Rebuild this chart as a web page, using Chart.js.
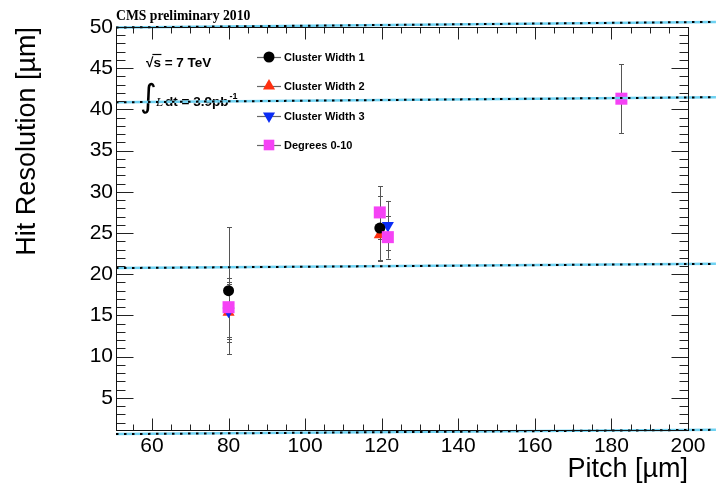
<!DOCTYPE html>
<html>
<head>
<meta charset="utf-8">
<script src="https://cdn.jsdelivr.net/npm/chart.js@4.4.0/dist/chart.umd.min.js"></script>
<style>
    html, body { margin: 0; padding: 0; background: #fff; }
</style>
</head>
<body>
<canvas id="resolutionChart" width="716" height="488"></canvas>
<script>
// axis ticks
const pitchTicks = [60, 80, 100, 120, 140, 160, 180, 200];
const resTicks = [5, 10, 15, 20, 25, 30, 35, 40, 45, 50];
const pitchMinorStep = 5;
const resMinorStep = 1;

// Cluster Width 1
const cw1Pitch = [80, 119.5];
const cw1Res = [18.0, 25.6];
const cw1Err = [7.7, 3.9];
// Cluster Width 2
const cw2Pitch = [80, 119.5];
const cw2Res = [15.4, 24.8];
const cw2Err = [3.6, 3.2];
// Cluster Width 3
const cw3Pitch = [80, 121.6];
const cw3Res = [15.5, 25.9];
const cw3Err = [3.3, 3.0];
// Degrees 0-10
const degPitch = [80, 119.5, 121.6, 182.6];
const degRes = [16.0, 27.5, 24.5, 41.3];
const degErr = [3.6, 3.2, 2.6, 4.2];

// the dotted lines running across the frame
const lineEndsPitch = [50.6, 207.3];
const lineLeftRes = [49.94, 40.86, 20.75, 0.6];
const lineRightRes = [50.62, 41.48, 21.26, 1.12];

function toPoints(px, py) {
    return px.map((p, i) => ({ x: p, y: py[i] }));
}

const linePoints = [];
lineLeftRes.forEach((r, i) => {
    linePoints.push({ x: lineEndsPitch[0], y: r });
    linePoints.push({ x: lineEndsPitch[1], y: lineRightRes[i] });
    linePoints.push({ x: lineEndsPitch[1], y: null });
});

const series = [
    { label: 'Cluster Width 1', pitch: cw1Pitch, res: cw1Res, err: cw1Err, color: '#000000', style: 'circle', radius: 5.5, rotation: 0, order: 3 },
    { label: 'Cluster Width 2', pitch: cw2Pitch, res: cw2Res, err: cw2Err, color: '#ff3010', style: 'triangle', radius: 7, rotation: 0, order: 5 },
    { label: 'Cluster Width 3', pitch: cw3Pitch, res: cw3Res, err: cw3Err, color: '#0a2cf5', style: 'triangle', radius: 7, rotation: 180, order: 4 },
    { label: 'Degrees 0-10', pitch: degPitch, res: degRes, err: degErr, color: '#f542f5', style: 'rect', radius: 8.5, rotation: 0, order: 2 }
];

const datasets = series.map(s => ({
    type: 'scatter',
    label: s.label,
    data: toPoints(s.pitch, s.res),
    pointStyle: s.style,
    pointRadius: s.radius,
    pointRotation: s.rotation,
    backgroundColor: s.color,
    borderColor: s.color,
    borderWidth: 0,
    order: s.order
}));

datasets.push({
    type: 'line',
    label: 'band',
    data: linePoints,
    borderColor: '#6fd2f2',
    borderWidth: 2.5,
    pointRadius: 0,
    spanGaps: false,
    clip: false,
    order: 1
});
datasets.push({
    type: 'line',
    label: 'dots',
    data: linePoints,
    borderColor: '#000',
    borderWidth: 2,
    borderDash: [2.5, 5.5],
    pointRadius: 0,
    spanGaps: false,
    clip: false,
    order: 0
});

const decorations = {
    id: 'decorations',
    beforeDatasetsDraw(chart) {
        const { ctx, scales: { x, y } } = chart;
        ctx.save();
        // error bars
        ctx.strokeStyle = '#555';
        ctx.lineWidth = 1;
        series.forEach(s => {
            s.pitch.forEach((p, i) => {
                const px = Math.round(x.getPixelForValue(p)) + 0.5;
                const top = y.getPixelForValue(s.res[i] + s.err[i]);
                const bot = y.getPixelForValue(s.res[i] - s.err[i]);
                ctx.beginPath();
                ctx.moveTo(px, top);
                ctx.lineTo(px, bot);
                ctx.moveTo(px - 2.5, Math.round(top) + 0.5);
                ctx.lineTo(px + 2.5, Math.round(top) + 0.5);
                ctx.moveTo(px - 2.5, Math.round(bot) + 0.5);
                ctx.lineTo(px + 2.5, Math.round(bot) + 0.5);
                ctx.stroke();
            });
        });

        // labels inside the frame
        ctx.fillStyle = '#000';
        ctx.textBaseline = 'alphabetic';
        ctx.font = 'bold 13.7px "Liberation Serif"';
        ctx.fillText('CMS preliminary 2010', 116, 20);

        ctx.font = 'bold 13.5px "Liberation Sans"';
        ctx.fillText('\u221A', 146, 67);
        const rw = ctx.measureText('\u221A').width;
        ctx.fillText('s = 7 TeV', 146 + rw, 67);
        const sw = ctx.measureText('s').width;
        ctx.strokeStyle = '#000';
        ctx.lineWidth = 1.2;
        ctx.beginPath();
        ctx.moveTo(146 + rw - 1, 54.5);
        ctx.lineTo(146 + rw + sw + 0.5, 54.5);
        ctx.stroke();

        ctx.font = '32px "DejaVu Sans"';
        ctx.textBaseline = 'middle';
        ctx.fillText('\u222B', 140, 99);
        ctx.textBaseline = 'alphabetic';
        ctx.font = 'italic 13px "Liberation Serif"';
        ctx.fillText('L', 156, 106);
        ctx.font = 'bold 13.5px "Liberation Sans"';
        ctx.fillText('dt = 3.9pb', 165, 106);
        const dw = ctx.measureText('dt = 3.9pb').width;
        ctx.font = 'bold 9px "Liberation Sans"';
        ctx.fillText('-1', 166 + dw, 99);
        ctx.restore();
    },
    afterDraw(chart) {
        const { ctx, chartArea: a, scales: { x, y } } = chart;
        ctx.save();
        ctx.setLineDash([]);
        ctx.strokeStyle = '#222';
        ctx.lineWidth = 1;
        const L = Math.round(a.left) + 0.5, R = Math.round(a.right) + 0.5;
        const T = Math.round(a.top) + 0.5, B = Math.round(a.bottom) + 0.5;
        ctx.beginPath();
        // x ticks, bottom and top, pointing inward
        for (let v = Math.ceil(x.min / pitchMinorStep) * pitchMinorStep; v <= x.max; v += pitchMinorStep) {
            const px = Math.round(x.getPixelForValue(v)) + 0.5;
            const len = pitchTicks.includes(v) ? 12 : 6;
            ctx.moveTo(px, B); ctx.lineTo(px, B - len);
            ctx.moveTo(px, T); ctx.lineTo(px, T + len);
        }
        // y ticks, left and right
        for (let v = Math.ceil(y.min / resMinorStep) * resMinorStep; v <= y.max; v += resMinorStep) {
            const py = Math.round(y.getPixelForValue(v)) + 0.5;
            const len = resTicks.includes(v) ? 17 : 9;
            ctx.moveTo(L, py); ctx.lineTo(L + len, py);
            ctx.moveTo(R, py); ctx.lineTo(R - len, py);
        }
        ctx.stroke();
        ctx.strokeStyle = '#111';
        ctx.strokeRect(L, T, R - L, B - T);

        // legend
        const legX = 269, legRows = [57, 86, 116, 145];
        series.forEach((s, i) => {
            const ly = legRows[i];
            ctx.strokeStyle = '#666';
            ctx.lineWidth = 1.2;
            ctx.beginPath();
            ctx.moveTo(257, ly + 0.5);
            ctx.lineTo(281, ly + 0.5);
            ctx.stroke();
            ctx.fillStyle = s.color;
            Chart.helpers.drawPoint(ctx, {
                pointStyle: s.style,
                radius: s.style === 'rect' ? 7.5 : s.radius,
                rotation: s.rotation,
                borderWidth: 0
            }, legX, ly);
            ctx.fillStyle = '#000';
            ctx.font = 'bold 11px "Liberation Sans"';
            ctx.textBaseline = 'middle';
            ctx.fillText(s.label, 284, ly + 0.5);
        });
        ctx.restore();
    }
};

new Chart(document.getElementById('resolutionChart'), {
    type: 'scatter',
    data: { datasets: datasets },
    options: {
        responsive: false,
        animation: false,
        layout: { padding: { top: 27, right: 28, left: 0, bottom: 0 } },
        plugins: {
            legend: { display: false },
            tooltip: { enabled: false }
        },
        scales: {
            x: {
                type: 'linear',
                min: 50.6,
                max: 200,
                afterBuildTicks: s => { s.ticks = pitchTicks.map(v => ({ value: v })); },
                afterFit: s => { s.height = 58; },
                grid: { display: false, drawTicks: false },
                border: { display: false },
                ticks: {
                    color: '#000',
                    padding: 4,
                    maxRotation: 0,
                    autoSkip: false,
                    font: { family: 'Liberation Sans', size: 21 }
                },
                title: {
                    display: true,
                    text: 'Pitch [\u00B5m]',
                    align: 'end',
                    color: '#000',
                    padding: { top: 0, bottom: 2 },
                    font: { family: 'Liberation Sans', size: 27 }
                }
            },
            y: {
                type: 'linear',
                min: 1.1,
                max: 50,
                afterBuildTicks: s => { s.ticks = resTicks.map(v => ({ value: v })); },
                afterFit: s => { s.width = 116; },
                grid: { display: false, drawTicks: false },
                border: { display: false },
                ticks: {
                    color: '#000',
                    padding: 3,
                    autoSkip: false,
                    font: { family: 'Liberation Sans', size: 21 }
                },
                title: {
                    display: true,
                    text: 'Hit Resolution [\u00B5m]',
                    align: 'end',
                    color: '#000',
                    padding: { top: 11, bottom: 0 },
                    font: { family: 'Liberation Sans', size: 27 }
                }
            }
        }
    },
    plugins: [decorations]
});
</script>
</body>
</html>
